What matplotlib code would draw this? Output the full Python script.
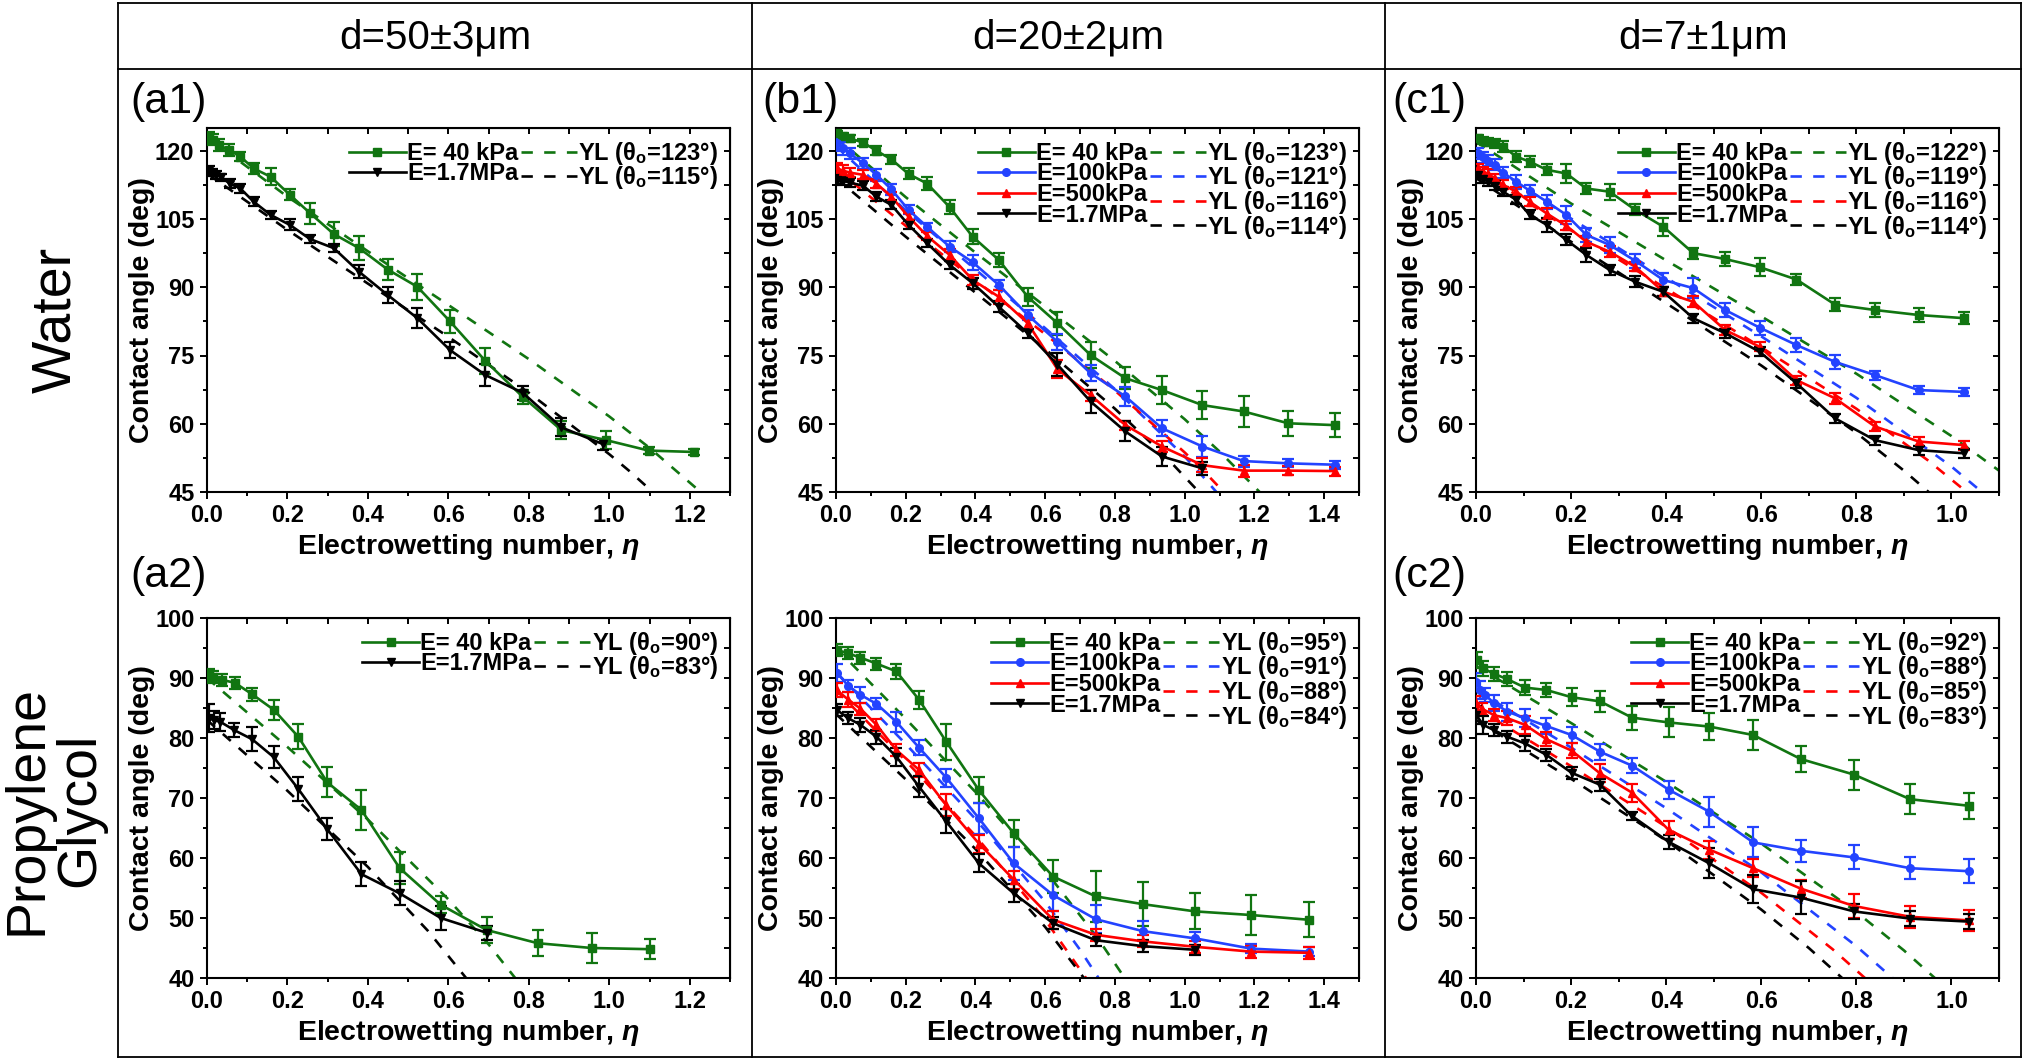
import matplotlib
matplotlib.use('Agg')
import matplotlib.pyplot as plt
import matplotlib.font_manager as fm
from matplotlib.lines import Line2D
from matplotlib.ticker import MultipleLocator, FormatStrFormatter


def _is_bold(f):
    w = f.weight
    if isinstance(w, str):
        return w.lower() in ('bold', 'heavy', 'black', 'extra bold', 'semibold', 'demibold')
    return w >= 600


def pick_family(cands):
    for name in cands:
        faces = [f for f in fm.fontManager.ttflist if f.name == name]
        if faces and any(_is_bold(f) for f in faces):
            return name
    return 'DejaVu Sans'


FAM = pick_family(['Liberation Sans', 'Arimo', 'Arial', 'Noto Sans', 'Roboto', 'Open Sans', 'DejaVu Sans'])
REG = 'Liberation Sans' if any(f.name == 'Liberation Sans' for f in fm.fontManager.ttflist) else FAM

plt.rcParams['font.family'] = [FAM, 'DejaVu Sans']
plt.rcParams['font.weight'] = 'bold'
plt.rcParams['mathtext.fontset'] = 'custom'
plt.rcParams['mathtext.rm'] = FAM + ':bold'
plt.rcParams['mathtext.it'] = FAM + ':italic:bold'
plt.rcParams['mathtext.bf'] = FAM + ':bold'

# ---------------- data ----------------
col_titles = ['d=50±3μm', 'd=20±2μm', 'd=7±1μm']
row_titles = ['Water', 'Propylene\nGlycol']
series_labels = ['E= 40 kPa', 'E=100kPa', 'E=500kPa', 'E=1.7MPa']

# (a1) water, d=50
a1_eta_40k = [0.004, 0.015, 0.029, 0.054, 0.083, 0.116, 0.158, 0.206, 0.256, 0.315, 0.378, 0.449, 0.523, 0.604, 0.692, 0.785, 0.881, 0.992, 1.098, 1.210]
a1_th_40k = [122.9, 122.4, 121.3, 120.2, 118.7, 116.1, 114.3, 110.3, 106.3, 101.7, 98.6, 93.9, 90.1, 82.5, 73.8, 65.9, 58.6, 56.4, 54.1, 53.8]
a1_err_40k = [1.2, 1.2, 1.3, 1.3, 1.0, 1.2, 1.8, 1.2, 2.3, 2.6, 2.6, 2.2, 2.9, 2.6, 2.8, 1.6, 2.0, 2.0, 0.8, 0.6]
a1_eta_17M = [0.004, 0.012, 0.023, 0.036, 0.056, 0.083, 0.116, 0.158, 0.206, 0.256, 0.315, 0.378, 0.449, 0.523, 0.604, 0.692, 0.785, 0.881, 0.985]
a1_th_17M = [115.8, 115.2, 114.7, 114.2, 112.8, 111.7, 108.8, 105.9, 103.7, 100.6, 98.6, 93.4, 88.3, 83.2, 76.2, 70.7, 66.8, 59.2, 55.5]
a1_err_17M = [0.8, 0.8, 0.8, 0.8, 1.0, 1.0, 1.0, 0.8, 1.2, 0.8, 0.8, 1.4, 1.8, 2.2, 1.8, 2.5, 1.5, 2.0, 1.2]

# (b1) water, d=20
b1_eta = [0.004, 0.021, 0.040, 0.078, 0.116, 0.159, 0.208, 0.261, 0.326, 0.392, 0.467, 0.550, 0.635, 0.730, 0.830, 0.935, 1.051, 1.169, 1.297, 1.430]
b1_th_40k = [123.8, 123.2, 122.7, 121.8, 120.0, 118.1, 114.9, 112.8, 107.6, 101.1, 96.0, 87.9, 82.1, 75.1, 70.0, 67.4, 64.1, 62.7, 60.1, 59.7]
b1_err_40k = [0.6, 0.7, 0.7, 0.8, 1.0, 1.0, 1.2, 1.5, 1.5, 1.6, 1.6, 2.0, 2.5, 2.8, 2.4, 3.0, 3.0, 3.4, 2.8, 2.6]
b1_th_100k = [121.6, 120.5, 119.4, 117.2, 114.7, 111.5, 107.0, 103.3, 98.9, 95.5, 90.5, 83.9, 78.0, 71.1, 66.0, 59.0, 55.0, 51.8, 51.3, 51.0]
b1_err_100k = [1.6, 1.5, 1.2, 1.2, 1.3, 1.3, 1.0, 0.9, 1.2, 1.6, 1.2, 1.0, 1.8, 1.8, 2.0, 1.8, 2.2, 1.2, 0.9, 0.9]
b1_th_500k = [116.1, 115.6, 115.2, 114.7, 112.8, 109.9, 105.5, 101.3, 97.1, 91.6, 87.9, 82.1, 72.0, 66.3, 59.7, 55.0, 50.9, 49.7, 49.7, 49.6]
b1_err_500k = [1.2, 1.2, 1.0, 1.0, 1.0, 1.0, 0.8, 0.9, 1.2, 1.2, 1.5, 1.2, 2.0, 1.2, 1.0, 1.2, 1.5, 1.3, 1.0, 1.0]
b1_eta_17M = [0.004, 0.021, 0.040, 0.078, 0.116, 0.159, 0.208, 0.261, 0.326, 0.392, 0.467, 0.550, 0.635, 0.730, 0.830, 0.935, 1.051]
b1_th_17M = [113.6, 113.4, 113.0, 112.3, 109.9, 108.1, 103.7, 99.7, 94.9, 90.9, 85.7, 79.9, 73.0, 64.9, 58.3, 52.8, 50.2]
b1_err_17M = [1.0, 1.0, 1.0, 1.0, 1.0, 1.0, 0.9, 0.9, 0.9, 1.2, 1.2, 1.0, 2.6, 2.6, 2.2, 2.0, 1.4]

# (c1) water, d=7
c1_eta = [0.005, 0.015, 0.026, 0.040, 0.057, 0.085, 0.113, 0.149, 0.190, 0.232, 0.281, 0.335, 0.394, 0.457, 0.524, 0.597, 0.674, 0.755, 0.839, 0.931, 1.027]
c1_th_40k = [122.7, 122.2, 122.0, 121.6, 120.9, 118.7, 117.6, 115.8, 115.0, 111.7, 111.0, 107.0, 103.3, 97.5, 96.2, 94.4, 91.7, 86.2, 85.0, 83.9, 83.2]
c1_err_40k = [0.8, 0.8, 0.9, 1.0, 1.2, 1.2, 1.2, 1.2, 2.0, 1.2, 1.8, 1.2, 2.0, 1.2, 1.5, 2.0, 1.2, 1.5, 1.5, 1.5, 1.3]
c1_th_100k = [119.4, 118.6, 117.8, 116.9, 115.2, 113.2, 111.2, 108.8, 105.9, 101.5, 99.3, 95.8, 91.6, 89.8, 85.0, 81.1, 77.3, 73.6, 70.7, 67.4, 67.0]
c1_err_100k = [1.2, 1.2, 1.2, 1.2, 1.2, 1.5, 1.2, 1.5, 2.0, 1.5, 1.8, 1.5, 1.5, 2.2, 1.5, 1.5, 1.5, 1.5, 1.0, 0.8, 0.8]
c1_th_500k = [116.1, 115.4, 114.9, 113.9, 112.5, 111.0, 108.8, 106.2, 103.5, 100.0, 97.8, 94.5, 89.0, 86.8, 80.6, 76.9, 69.6, 65.6, 59.4, 56.1, 55.3]
c1_err_500k = [1.0, 1.0, 1.0, 1.0, 1.0, 1.0, 1.0, 1.2, 1.0, 1.2, 1.2, 1.0, 1.0, 1.2, 1.0, 1.0, 1.0, 1.2, 1.0, 1.0, 1.0]
c1_th_17M = [114.7, 113.9, 113.2, 112.3, 111.0, 109.2, 105.9, 103.7, 100.4, 97.1, 93.8, 91.2, 89.0, 83.2, 79.9, 75.8, 68.9, 61.2, 56.4, 54.2, 53.5]
c1_err_17M = [1.0, 1.0, 1.0, 1.0, 1.0, 1.0, 1.0, 1.5, 1.2, 1.5, 1.2, 1.2, 1.0, 1.0, 1.0, 1.0, 1.0, 1.0, 1.0, 1.0, 1.0]

# (a2) propylene glycol, d=50
a2_eta_40k = [0.004, 0.015, 0.037, 0.069, 0.112, 0.166, 0.227, 0.299, 0.384, 0.479, 0.581, 0.695, 0.822, 0.956, 1.102]
a2_th_40k = [90.5, 90.1, 89.7, 89.2, 87.3, 84.7, 80.2, 72.6, 68.0, 58.3, 52.2, 48.0, 45.8, 45.0, 44.8]
a2_err_40k = [1.0, 1.0, 1.0, 1.0, 1.1, 1.7, 2.1, 2.5, 3.3, 2.7, 1.4, 2.2, 2.2, 2.5, 1.7]
a2_eta_17M = [0.004, 0.017, 0.033, 0.068, 0.112, 0.166, 0.227, 0.299, 0.384, 0.479, 0.581, 0.697]
a2_th_17M = [83.3, 83.0, 82.7, 81.3, 79.8, 76.8, 71.5, 64.8, 57.3, 54.1, 50.0, 47.5]
a2_err_17M = [2.3, 1.5, 1.5, 1.2, 2.0, 1.8, 2.0, 1.8, 2.0, 2.0, 2.0, 1.2]

# (b2) propylene glycol, d=20
b2_eta = [0.002, 0.035, 0.070, 0.116, 0.173, 0.238, 0.316, 0.410, 0.510, 0.623, 0.745, 0.881, 1.030, 1.190, 1.357]
b2_th_40k = [94.7, 94.1, 93.4, 92.4, 91.1, 86.4, 79.4, 71.3, 64.1, 56.9, 53.6, 52.3, 51.1, 50.5, 49.7]
b2_err_40k = [1.0, 1.0, 1.0, 1.0, 1.2, 1.5, 3.0, 2.2, 2.2, 2.8, 4.2, 3.7, 3.0, 3.4, 2.9]
b2_th_100k = [90.9, 88.7, 87.2, 85.7, 82.7, 78.4, 73.4, 66.6, 59.1, 53.8, 49.8, 47.8, 46.6, 44.9, 44.4]
b2_err_100k = [1.5, 1.0, 1.3, 0.9, 1.7, 1.2, 1.5, 2.6, 2.7, 2.7, 2.3, 1.7, 1.1, 0.8, 0.8]
b2_th_500k = [88.0, 86.4, 84.9, 82.2, 78.0, 74.7, 68.8, 62.4, 56.4, 49.7, 47.2, 46.1, 45.2, 44.4, 44.2]
b2_err_500k = [1.2, 1.2, 1.0, 1.0, 1.0, 1.2, 1.8, 1.5, 1.5, 1.5, 1.0, 1.0, 1.0, 1.0, 1.0]
b2_eta_17M = [0.002, 0.035, 0.070, 0.116, 0.173, 0.238, 0.316, 0.410, 0.510, 0.623, 0.745, 0.881, 1.030]
b2_th_17M = [84.7, 83.3, 82.2, 80.2, 76.9, 71.9, 66.1, 59.1, 54.1, 49.1, 46.3, 45.3, 44.7]
b2_err_17M = [1.0, 1.0, 1.2, 1.2, 1.5, 1.8, 2.0, 1.5, 1.5, 1.0, 1.0, 1.0, 0.8]

# (c2) propylene glycol, d=7
c2_eta_40k = [0.003, 0.015, 0.038, 0.066, 0.103, 0.148, 0.201, 0.261, 0.328, 0.405, 0.491, 0.583, 0.683, 0.795, 0.913, 1.037]
c2_th_40k = [93.0, 91.6, 90.7, 89.8, 88.4, 88.0, 86.8, 86.1, 83.4, 82.6, 81.9, 80.5, 76.5, 73.9, 69.8, 68.7]
c2_err_40k = [1.3, 1.3, 1.2, 1.2, 1.2, 1.2, 1.5, 1.8, 2.0, 2.5, 2.2, 2.5, 2.2, 2.5, 2.5, 2.2]
c2_eta_100k = [0.001, 0.008, 0.019, 0.038, 0.066, 0.103, 0.148, 0.201, 0.261, 0.328, 0.405, 0.491, 0.583, 0.683, 0.795, 0.913, 1.037]
c2_th_100k = [89.4, 88.0, 87.2, 85.8, 84.4, 83.3, 82.0, 80.5, 77.7, 75.4, 71.4, 67.7, 62.6, 61.2, 60.1, 58.3, 57.8]
c2_err_100k = [1.5, 1.5, 1.2, 1.3, 1.5, 1.5, 1.3, 1.3, 1.3, 1.3, 1.5, 2.5, 2.5, 1.8, 2.0, 1.8, 2.0]
c2_eta_500k = [0.001, 0.012, 0.038, 0.066, 0.103, 0.148, 0.201, 0.261, 0.328, 0.405, 0.491, 0.583, 0.683, 0.795, 0.913, 1.037]
c2_th_500k = [85.8, 84.9, 83.8, 83.3, 82.2, 79.8, 77.9, 74.1, 70.9, 64.7, 61.4, 58.3, 54.9, 52.0, 50.2, 49.6]
c2_err_500k = [1.2, 1.0, 1.0, 1.2, 1.5, 1.2, 1.3, 1.5, 1.5, 1.5, 1.5, 1.5, 1.5, 2.0, 1.8, 1.7]
c2_eta_17M = [0.001, 0.015, 0.038, 0.066, 0.103, 0.148, 0.201, 0.261, 0.328, 0.405, 0.491, 0.583, 0.683, 0.795, 0.913, 1.037]
c2_th_17M = [83.8, 82.2, 81.3, 80.2, 79.1, 77.2, 74.2, 72.2, 67.0, 62.7, 59.1, 54.8, 53.4, 51.1, 49.9, 49.4]
c2_err_17M = [1.5, 1.5, 1.0, 1.0, 1.2, 1.0, 1.0, 1.0, 0.6, 1.2, 2.5, 2.3, 2.8, 1.3, 1.3, 1.3]

# Young-Lippmann dashed curves
a1_theta0 = [123, 115]
a1_yl_eta_40k = [0, 0.2, 0.4, 0.6, 0.8, 1.0, 1.1, 1.227]
a1_yl_th_40k = [123.0, 109.9, 97.9, 86.1, 74.2, 61.6, 54.7, 45.0]
a1_yl_eta_17M = [0, 0.2, 0.4, 0.6, 0.8, 1.0, 1.05, 1.108]
a1_yl_th_17M = [115.0, 102.6, 90.8, 79.1, 66.8, 53.3, 49.6, 45.0]

b1_theta0 = [123, 121, 116, 114]
b1_yl_eta_40k = [0, 0.2, 0.4, 0.6, 0.8, 1.0, 1.1, 1.215]
b1_yl_th_40k = [123.0, 109.8, 97.6, 85.8, 73.8, 61.0, 53.9, 45.0]
b1_yl_eta_100k = [0, 0.2, 0.4, 0.6, 0.8, 1.0, 1.05, 1.091]
b1_yl_th_100k = [121.0, 106.9, 93.9, 81.0, 67.6, 52.8, 48.6, 45.0]
b1_yl_eta_500k = [0, 0.2, 0.4, 0.6, 0.8, 1.0, 1.06, 1.112]
b1_yl_th_500k = [116.0, 103.5, 91.5, 79.7, 67.3, 53.7, 49.2, 45.0]
b1_yl_eta_17M = [0, 0.2, 0.4, 0.6, 0.8, 0.95, 1.041]
b1_yl_th_17M = [114.0, 101.1, 88.8, 76.4, 63.3, 52.4, 45.0]

c1_theta0 = [122, 119, 116, 114]
c1_yl_eta_40k = [0, 0.2, 0.4, 0.6, 0.8, 1.0, 1.1]
c1_yl_th_40k = [122.0, 108.4, 95.9, 83.6, 71.0, 57.3, 49.7]
c1_yl_eta_100k = [0, 0.2, 0.4, 0.6, 0.8, 1.0, 1.064]
c1_yl_th_100k = [119.0, 105.1, 92.1, 79.2, 65.7, 50.6, 45.0]
c1_yl_eta_500k = [0, 0.2, 0.4, 0.6, 0.8, 0.95, 1.032]
c1_yl_th_500k = [116.0, 102.5, 89.7, 76.8, 63.3, 52.0, 45.0]
c1_yl_eta_17M = [0, 0.2, 0.4, 0.6, 0.8, 0.9, 0.952]
c1_yl_th_17M = [114.0, 100.0, 86.5, 72.8, 58.0, 49.7, 45.0]

a2_theta0 = [90, 83]
a2_yl_eta_40k = [0, 0.2, 0.4, 0.6, 0.7, 0.766]
a2_yl_th_40k = [90.0, 78.5, 66.4, 53.1, 45.6, 40.0]
a2_yl_eta_17M = [0, 0.2, 0.4, 0.55, 0.644]
a2_yl_th_17M = [83.0, 71.2, 58.5, 47.8, 40.0]

b2_theta0 = [95, 91, 88, 84]
b2_yl_eta_40k = [0, 0.2, 0.4, 0.6, 0.75, 0.828]
b2_yl_th_40k = [95.0, 83.2, 71.0, 57.9, 46.7, 40.0]
b2_yl_eta_100k = [0, 0.2, 0.4, 0.6, 0.7, 0.753]
b2_yl_th_100k = [91.0, 79.0, 66.5, 52.7, 44.7, 40.0]
b2_yl_eta_500k = [0, 0.2, 0.4, 0.6, 0.717]
b2_yl_th_500k = [88.0, 76.2, 63.7, 49.7, 40.0]
b2_yl_eta_17M = [0, 0.2, 0.4, 0.6, 0.711]
b2_yl_th_17M = [84.0, 73.1, 61.5, 48.5, 40.0]

c2_theta0 = [92, 88, 85, 83]
c2_yl_eta_40k = [0, 0.2, 0.4, 0.6, 0.8, 0.9, 0.965]
c2_yl_th_40k = [92.0, 82.5, 72.7, 62.4, 51.0, 44.6, 40.0]
c2_yl_eta_100k = [0, 0.2, 0.4, 0.6, 0.8, 0.876]
c2_yl_th_100k = [88.0, 78.4, 68.3, 57.6, 45.3, 40.0]
c2_yl_eta_500k = [0, 0.2, 0.4, 0.6, 0.75, 0.818]
c2_yl_th_500k = [85.0, 75.3, 65.2, 54.2, 44.8, 40.0]
c2_yl_eta_17M = [0, 0.2, 0.4, 0.6, 0.7, 0.77]
c2_yl_th_17M = [83.0, 73.2, 62.9, 51.4, 45.0, 40.0]

# ---------------- styles ----------------
GREEN, BLUE, RED, BLACK = '#117511', '#2343ff', '#ff0000', '#000000'
styles = {0: (GREEN, 's'), 1: (BLUE, 'o'), 2: (RED, '^'), 3: (BLACK, 'v')}

W, H = 2025, 1060
fig = plt.figure(figsize=(W / 100, H / 100), dpi=100)


def fx(px):
    return px / W


def fy(py):
    return 1 - py / H


panels = [
    dict(name='(a1)', col=0, row=0, xlim=1.3, theta0=a1_theta0, idx=[0, 3],
         data=[(a1_eta_40k, a1_th_40k, a1_err_40k), (a1_eta_17M, a1_th_17M, a1_err_17M)],
         yl=[(a1_yl_eta_40k, a1_yl_th_40k), (a1_yl_eta_17M, a1_yl_th_17M)]),
    dict(name='(b1)', col=1, row=0, xlim=1.5, theta0=b1_theta0, idx=[0, 1, 2, 3],
         data=[(b1_eta, b1_th_40k, b1_err_40k), (b1_eta, b1_th_100k, b1_err_100k),
               (b1_eta, b1_th_500k, b1_err_500k), (b1_eta_17M, b1_th_17M, b1_err_17M)],
         yl=[(b1_yl_eta_40k, b1_yl_th_40k), (b1_yl_eta_100k, b1_yl_th_100k),
             (b1_yl_eta_500k, b1_yl_th_500k), (b1_yl_eta_17M, b1_yl_th_17M)]),
    dict(name='(c1)', col=2, row=0, xlim=1.1, theta0=c1_theta0, idx=[0, 1, 2, 3],
         data=[(c1_eta, c1_th_40k, c1_err_40k), (c1_eta, c1_th_100k, c1_err_100k),
               (c1_eta, c1_th_500k, c1_err_500k), (c1_eta, c1_th_17M, c1_err_17M)],
         yl=[(c1_yl_eta_40k, c1_yl_th_40k), (c1_yl_eta_100k, c1_yl_th_100k),
             (c1_yl_eta_500k, c1_yl_th_500k), (c1_yl_eta_17M, c1_yl_th_17M)]),
    dict(name='(a2)', col=0, row=1, xlim=1.3, theta0=a2_theta0, idx=[0, 3],
         data=[(a2_eta_40k, a2_th_40k, a2_err_40k), (a2_eta_17M, a2_th_17M, a2_err_17M)],
         yl=[(a2_yl_eta_40k, a2_yl_th_40k), (a2_yl_eta_17M, a2_yl_th_17M)]),
    dict(name=None, col=1, row=1, xlim=1.5, theta0=b2_theta0, idx=[0, 1, 2, 3],
         data=[(b2_eta, b2_th_40k, b2_err_40k), (b2_eta, b2_th_100k, b2_err_100k),
               (b2_eta, b2_th_500k, b2_err_500k), (b2_eta_17M, b2_th_17M, b2_err_17M)],
         yl=[(b2_yl_eta_40k, b2_yl_th_40k), (b2_yl_eta_100k, b2_yl_th_100k),
             (b2_yl_eta_500k, b2_yl_th_500k), (b2_yl_eta_17M, b2_yl_th_17M)]),
    dict(name='(c2)', col=2, row=1, xlim=1.1, theta0=c2_theta0, idx=[0, 1, 2, 3],
         data=[(c2_eta_40k, c2_th_40k, c2_err_40k), (c2_eta_100k, c2_th_100k, c2_err_100k),
               (c2_eta_500k, c2_th_500k, c2_err_500k), (c2_eta_17M, c2_th_17M, c2_err_17M)],
         yl=[(c2_yl_eta_40k, c2_yl_th_40k), (c2_yl_eta_100k, c2_yl_th_100k),
             (c2_yl_eta_500k, c2_yl_th_500k), (c2_yl_eta_17M, c2_yl_th_17M)]),
]

col_left = [207, 836, 1476]
ax_w = 523
row_top = [128, 618]
row_bot = [492, 978]
row_ylim = [(45, 125), (40, 100)]
row_ymaj = [15, 10]
dividers = [118, 752, 1385, 2021]
label_x = [130, 762, 1392]
label_y = [102, 576]

BOLD = dict(family=[FAM, 'DejaVu Sans'], weight='bold')
REGF = [REG, 'DejaVu Sans']

for p in panels:
    c, r = p['col'], p['row']
    ax = fig.add_axes([fx(col_left[c]), fy(row_bot[r]), fx(ax_w), (row_bot[r] - row_top[r]) / H])
    ax.set_xlim(0, p['xlim'])
    ax.set_ylim(*row_ylim[r])
    for (e, t), i in zip(p['yl'], p['idx']):
        ax.plot(e, t, color=styles[i][0], ls=(0, (4, 4)), lw=1.9, zorder=2)
    for (e, t, er), i in zip(p['data'], p['idx']):
        col, mk = styles[i]
        ax.errorbar(e, t, yerr=er, color=col, marker=mk, ms=5.5, lw=1.9,
                    elinewidth=1.6, capsize=4.5, capthick=1.6, zorder=3)
    ax.xaxis.set_major_locator(MultipleLocator(0.2))
    ax.xaxis.set_minor_locator(MultipleLocator(0.1))
    ax.yaxis.set_major_locator(MultipleLocator(row_ymaj[r]))
    ax.yaxis.set_minor_locator(MultipleLocator(row_ymaj[r] / 2))
    ax.xaxis.set_major_formatter(FormatStrFormatter('%.1f'))
    ax.tick_params(which='both', direction='out', width=1.4, labelsize=17, pad=4)
    ax.tick_params(which='major', length=5)
    ax.tick_params(which='minor', length=3)
    for lbl in ax.get_xticklabels() + ax.get_yticklabels():
        lbl.set_fontweight('bold')
    for s in ax.spines.values():
        s.set_linewidth(1.5)
    top = ax.secondary_xaxis('top')
    top.xaxis.set_major_locator(MultipleLocator(0.2))
    top.xaxis.set_minor_locator(MultipleLocator(0.1))
    top.tick_params(which='both', direction='in', width=1.4, length=4.5, labeltop=False)
    right = ax.secondary_yaxis('right')
    right.yaxis.set_major_locator(MultipleLocator(row_ymaj[r]))
    right.yaxis.set_minor_locator(MultipleLocator(row_ymaj[r] / 2))
    right.tick_params(which='both', direction='in', width=1.4, length=4.5, labelright=False)
    ax.set_xlabel('Electrowetting number, $\\eta$', fontsize=20.5, labelpad=3, **BOLD)
    ax.set_ylabel('Contact angle (deg)', fontsize=20.5, **BOLD)
    ax.yaxis.set_label_coords(-0.10, 0.5)

    solids, dashes, lab_s, lab_d = [], [], [], []
    for i, t0 in zip(p['idx'], p['theta0']):
        col, mk = styles[i]
        solids.append(Line2D([], [], color=col, marker=mk, ms=5.5, lw=1.9))
        dashes.append(Line2D([], [], color=col, ls=(0, (4.3, 4.3)), lw=1.9))
        lab_s.append(series_labels[i])
        lab_d.append('YL (θ$_\\mathregular{o}$=%d°)' % t0)
    leg = ax.legend(solids + dashes, lab_s + lab_d, ncol=2, loc='upper right',
                    bbox_to_anchor=(1.0, 1.0), frameon=False,
                    prop=dict(family=[FAM, 'DejaVu Sans'], weight='bold', size=17),
                    handlelength=2.4, handletextpad=0.05, columnspacing=0.1,
                    labelspacing=-0.1, borderpad=0.3, borderaxespad=0.2)
    for t in leg.get_texts():
        t.set_fontweight('bold')
    if p['name']:
        fig.text(fx(label_x[c]), fy(label_y[r]), p['name'], fontsize=31,
                 family=REGF, fontweight='normal', ha='left', va='center')

# table frame
lk = dict(color='black', lw=1.3, transform=fig.transFigure)
for xd in dividers:
    fig.add_artist(Line2D([fx(xd), fx(xd)], [fy(3), fy(1057)], **lk))
for yd in [3, 69, 1057]:
    fig.add_artist(Line2D([fx(118), fx(2021)], [fy(yd), fy(yd)], **lk))

for k, t in enumerate(col_titles):
    xc = (dividers[k] + dividers[k + 1]) / 2
    fig.text(fx(xc), fy(37), t, fontsize=29, family=REGF, fontweight='normal',
             ha='center', va='center')

fig.text(fx(56), fy(320), row_titles[0], fontsize=40, family=REGF, fontweight='normal',
         rotation=90, ha='center', va='center')
fig.text(fx(54), fy(810), row_titles[1], fontsize=40, family=REGF, fontweight='normal',
         rotation=90, ha='center', va='center', multialignment='center', linespacing=1.0)

fig.savefig('out.png', dpi=100)
